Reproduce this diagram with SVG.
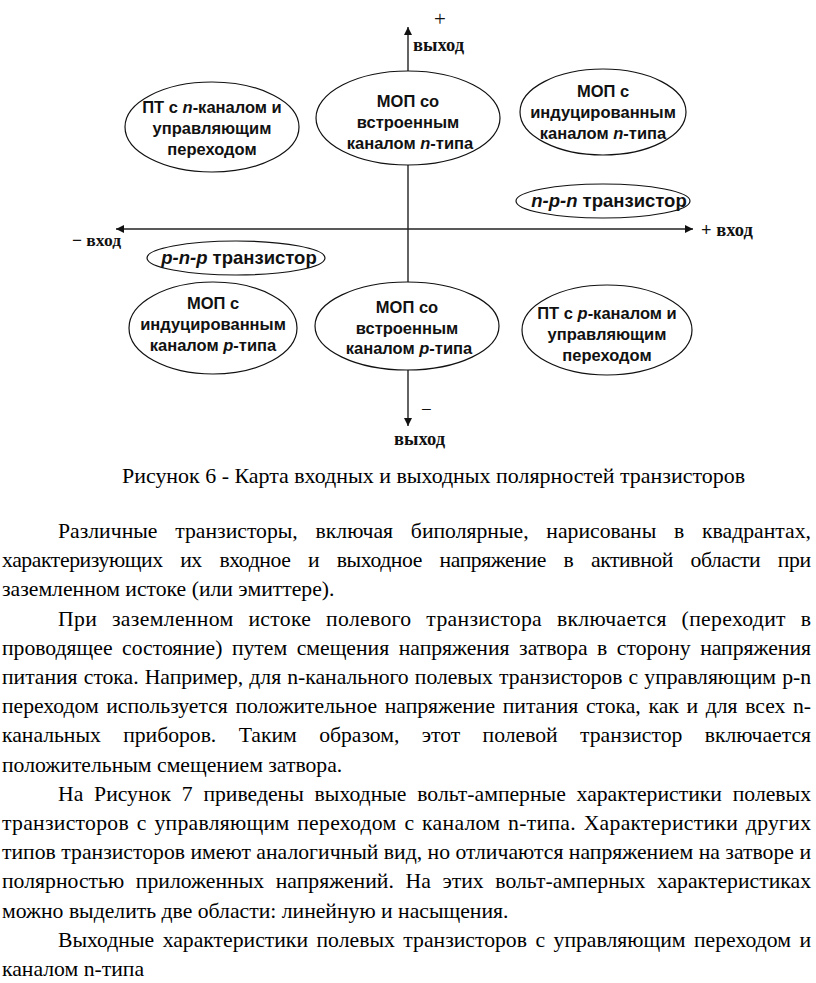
<svg xmlns="http://www.w3.org/2000/svg" width="816" height="983" viewBox="0 0 816 983">
<style>
.n{font-family:"Liberation Sans",Arial,sans-serif;font-weight:bold;font-size:16.5px;fill:#111;text-anchor:middle}
.i{font-style:italic}
.e{fill:#fff;stroke:#111;stroke-width:1.2}
.ax{font-family:"Liberation Serif","Times New Roman",serif;font-weight:bold;font-size:18.5px;fill:#111}
.b{font-family:"Liberation Serif","Times New Roman",serif;font-size:21.7px;fill:#000}
</style>
<defs>
<marker id="ar" viewBox="0 0 10 10" refX="10" refY="5" markerWidth="9" markerHeight="8" markerUnits="userSpaceOnUse" orient="auto">
<path d="M0,0 L10,5 L0,10 z" fill="#111"/>
</marker>
</defs>
<g id="connectors" stroke="#222" stroke-width="1.4" fill="none">
<line x1="408" y1="229" x2="408" y2="27" marker-end="url(#ar)"/>
<line x1="408" y1="229" x2="408" y2="426" marker-end="url(#ar)"/>
<line x1="408" y1="229" x2="693" y2="229" marker-end="url(#ar)"/>
<line x1="408" y1="229" x2="116" y2="229" marker-end="url(#ar)"/>
</g>
<g id="axis-labels">
<text class="ax" x="440" y="26" text-anchor="middle" style="font-weight:normal;font-size:21px">+</text>
<text class="ax" x="413" y="51">выход</text>
<text class="ax" x="701" y="236">+ вход</text>
<text class="ax" x="72" y="246" style="font-size:17.5px">− вход</text>
<text class="ax" x="421" y="416" style="font-weight:normal;font-size:19px">−</text>
<text class="ax" x="394" y="445">выход</text>
</g>
<g id="n1"><ellipse class="e" cx="212" cy="127" rx="87" ry="45"/>
<text class="n" x="212" y="113">ПТ с <tspan class="i">n</tspan>-каналом и</text>
<text class="n" x="212" y="134">управляющим</text>
<text class="n" x="212" y="155">переходом</text></g>
<g id="n2"><ellipse class="e" cx="408" cy="118" rx="92" ry="47"/>
<text class="n" x="408" y="107">МОП со</text>
<text class="n" x="408" y="128">встроенным</text>
<text class="n" x="410" y="149">каналом <tspan class="i">n</tspan>-типа</text></g>
<g id="n3"><ellipse class="e" cx="603" cy="112" rx="83" ry="43"/>
<text class="n" x="603" y="97">МОП с</text>
<text class="n" x="603" y="118">индуцированным</text>
<text class="n" x="603" y="139">каналом <tspan class="i">n</tspan>-типа</text></g>
<g id="n4"><ellipse class="e" cx="603" cy="201" rx="87" ry="17"/>
<text class="n" x="609" y="207" style="font-size:18.5px"><tspan class="i">n-p-n</tspan> транзистор</text></g>
<g id="n5"><ellipse class="e" cx="236" cy="258" rx="89" ry="17"/>
<text class="n" x="239" y="264" style="font-size:18.5px"><tspan class="i">p-n-p</tspan> транзистор</text></g>
<g id="n6"><ellipse class="e" cx="213" cy="328" rx="84" ry="46"/>
<text class="n" x="213" y="309">МОП с</text>
<text class="n" x="213" y="330">индуцированным</text>
<text class="n" x="213" y="351">каналом <tspan class="i">p</tspan>-типа</text></g>
<g id="n7"><ellipse class="e" cx="407" cy="326" rx="92" ry="44"/>
<text class="n" x="407" y="313">МОП со</text>
<text class="n" x="407" y="334">встроенным</text>
<text class="n" x="409" y="354">каналом <tspan class="i">p</tspan>-типа</text></g>
<g id="n8"><ellipse class="e" cx="607" cy="330" rx="85" ry="45"/>
<text class="n" x="607" y="319">ПТ с <tspan class="i">p</tspan>-каналом и</text>
<text class="n" x="607" y="340">управляющим</text>
<text class="n" x="607" y="361">переходом</text></g>
<g id="caption">
<text class="b" x="122" y="483" textLength="623" lengthAdjust="spacingAndGlyphs">Рисунок 6 - Карта входных и выходных полярностей транзисторов</text>
</g>
<g id="body">
<text class="b" x="58" y="538" word-spacing="12.3" textLength="753" lengthAdjust="spacing">Различные транзисторы, включая биполярные, нарисованы в квадрантах,</text>
<text class="b" x="2" y="567" word-spacing="12.6" textLength="809" lengthAdjust="spacing">характеризующих их входное и выходное напряжение в активной области при</text>
<text class="b" x="2" y="596">заземленном истоке (или эмиттере).</text>
<text class="b" x="58" y="626" word-spacing="9.1" textLength="753" lengthAdjust="spacing">При заземленном истоке полевого транзистора включается (переходит в</text>
<text class="b" x="2" y="655" word-spacing="4.1" textLength="809" lengthAdjust="spacing">проводящее состояние) путем смещения напряжения затвора в сторону напряжения</text>
<text class="b" x="2" y="684" word-spacing="0.8" textLength="809" lengthAdjust="spacing">питания стока. Например, для n-канального полевых транзисторов с управляющим p-n</text>
<text class="b" x="2" y="713" word-spacing="2.3" textLength="809" lengthAdjust="spacing">переходом используется положительное напряжение питания стока, как и для всех n-</text>
<text class="b" x="2" y="742" word-spacing="17" textLength="809" lengthAdjust="spacing">канальных приборов. Таким образом, этот полевой транзистор включается</text>
<text class="b" x="2" y="772">положительным смещением затвора.</text>
<text class="b" x="58" y="801" word-spacing="5.4" textLength="753" lengthAdjust="spacing">На Рисунок 7 приведены выходные вольт-амперные характеристики полевых</text>
<text class="b" x="2" y="830" word-spacing="2.1" textLength="809" lengthAdjust="spacing">транзисторов с управляющим переходом с каналом n-типа. Характеристики других</text>
<text class="b" x="2" y="859" textLength="809" lengthAdjust="spacing">типов транзисторов имеют аналогичный вид, но отличаются напряжением на затворе и</text>
<text class="b" x="2" y="888" word-spacing="6.2" textLength="809" lengthAdjust="spacing">полярностью приложенных напряжений. На этих вольт-амперных характеристиках</text>
<text class="b" x="2" y="918">можно выделить две области: линейную и насыщения.</text>
<text class="b" x="58" y="947" word-spacing="3.1" textLength="753" lengthAdjust="spacing">Выходные характеристики полевых транзисторов с управляющим переходом и</text>
<text class="b" x="2" y="976">каналом n-типа</text>
</g>
</svg>
